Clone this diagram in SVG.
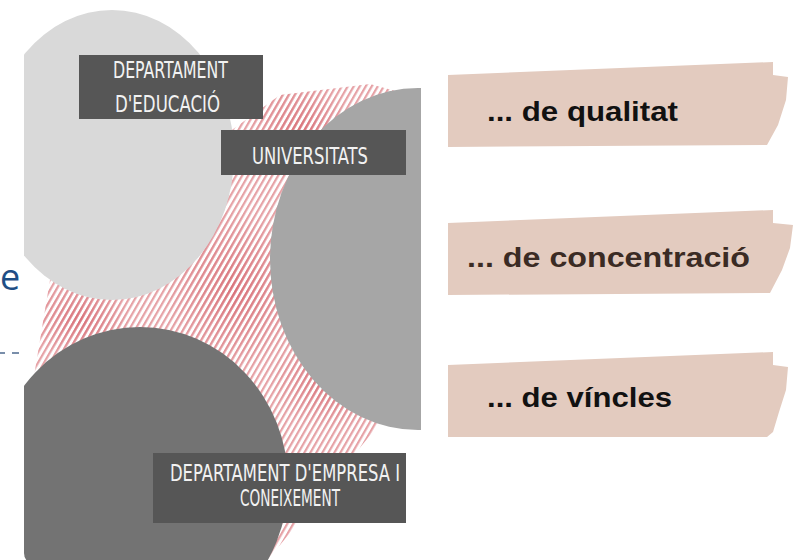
<svg xmlns="http://www.w3.org/2000/svg" width="800" height="560" viewBox="0 0 800 560">
  <defs>
    <style>
      .box { fill: #565656; }
      .lbl { fill: #f2f2f2; font-family: "Liberation Sans Narrow", "DejaVu Sans Condensed", "Liberation Sans", sans-serif; font-size: 23px; }
      .tape { fill: #e3cbbf; }
      .tt { font-family: "Liberation Sans", Arial, sans-serif; font-weight: bold; font-size: 27px; }
    </style>
    <clipPath id="panel">
      <rect x="24" y="-20" width="397" height="585" rx="12"/>
    </clipPath>
    <pattern id="hatch" patternUnits="userSpaceOnUse" width="5.2" height="10" patternTransform="rotate(30)">
      <rect x="0" y="0" width="5.2" height="10" fill="#ffffff"/>
      <rect x="0" y="0" width="2.2" height="10" fill="#e6a2a6"/>
    </pattern>
    <pattern id="hatch2" patternUnits="userSpaceOnUse" width="5.2" height="10" patternTransform="rotate(30)">
      <rect x="0" y="0" width="2.4" height="10" fill="#d66a72"/>
    </pattern>
    <radialGradient id="redfade" cx="0.5" cy="0.5" r="0.5">
      <stop offset="0" stop-color="#fff" stop-opacity="0.85"/>
      <stop offset="1" stop-color="#fff" stop-opacity="0"/>
    </radialGradient>
    <mask id="redmask">
      <ellipse cx="235" cy="290" rx="70" ry="80" fill="url(#redfade)"/>
      <ellipse cx="330" cy="380" rx="60" ry="50" fill="url(#redfade)"/>
      <ellipse cx="300" cy="130" rx="50" ry="50" fill="url(#redfade)"/>
      <ellipse cx="80" cy="320" rx="50" ry="40" fill="url(#redfade)"/>
    </mask>
  </defs>

  <rect x="0" y="0" width="800" height="560" fill="#ffffff"/>

  <!-- remnants at far left -->
  <text x="0" y="290" font-family="'Open Sans', 'Noto Sans', sans-serif" font-size="36" fill="#1f4e85">e</text>
  <line x1="-2" y1="353" x2="26" y2="353" stroke="#4d6a8e" stroke-width="1.5" stroke-dasharray="7 7"/>

  <g id="panel-art" clip-path="url(#panel)">
    <g id="hatching">
      <path d="M28,412 L50,280 L225,135 L280,95 L370,84 L421,98 L421,400 L395,405 L280,545 L262,566 L28,566 Z" fill="url(#hatch)"/>
      <path d="M28,412 L50,280 L225,135 L280,95 L370,84 L421,98 L421,400 L395,405 L280,545 L262,566 L28,566 Z" fill="url(#hatch2)" mask="url(#redmask)"/>
    </g>
    <ellipse id="circle-light" cx="112" cy="155" rx="122" ry="145" fill="#d9d9d9"/>
    <ellipse id="circle-mid" cx="418" cy="259" rx="148" ry="171" fill="#a6a6a6"/>
    <ellipse id="circle-dark" cx="140" cy="482" rx="148" ry="155" fill="#737373"/>
  </g>

  <g id="node-educacio">
    <rect class="box" x="79" y="55" width="184" height="64"/>
    <text class="lbl" x="113" y="78" textLength="115" lengthAdjust="spacingAndGlyphs">DEPARTAMENT</text>
    <text class="lbl" x="115" y="112" textLength="105" lengthAdjust="spacingAndGlyphs">D'EDUCACIÓ</text>
  </g>

  <g id="node-universitats">
    <rect class="box" x="221" y="130" width="185" height="45"/>
    <text class="lbl" x="252" y="164" textLength="116" lengthAdjust="spacingAndGlyphs">UNIVERSITATS</text>
  </g>

  <g id="node-empresa">
    <rect class="box" x="153" y="453" width="253" height="70"/>
    <text class="lbl" x="170" y="481" textLength="230" lengthAdjust="spacingAndGlyphs">DEPARTAMENT D'EMPRESA I</text>
    <text class="lbl" x="240" y="506" textLength="100" lengthAdjust="spacingAndGlyphs">CONEIXEMENT</text>
  </g>

  <g id="connectors"></g>

  <g id="tape-qualitat">
    <path class="tape" d="M448,75 L773,62 L773,75 L788,77 L786,100 L778,125 L767,145 L448,147 Z"/>
    <text class="tt" x="487" y="121" fill="#111111" textLength="191" lengthAdjust="spacingAndGlyphs">... de qualitat</text>
  </g>

  <g id="tape-concentracio">
    <path class="tape" d="M448,223 L773,210 L773,223 L793,225 L790,248 L782,270 L770,293 L448,295 Z"/>
    <text class="tt" x="467" y="267" fill="#3b2b24" textLength="283" lengthAdjust="spacingAndGlyphs">... de concentració</text>
  </g>

  <g id="tape-vincles">
    <path class="tape" d="M448,365 L773,352 L773,365 L788,367 L786,390 L779,412 L773,432 L767,437 L448,437 Z"/>
    <text class="tt" x="487" y="407" fill="#111111" textLength="185" lengthAdjust="spacingAndGlyphs">... de víncles</text>
  </g>
</svg>
